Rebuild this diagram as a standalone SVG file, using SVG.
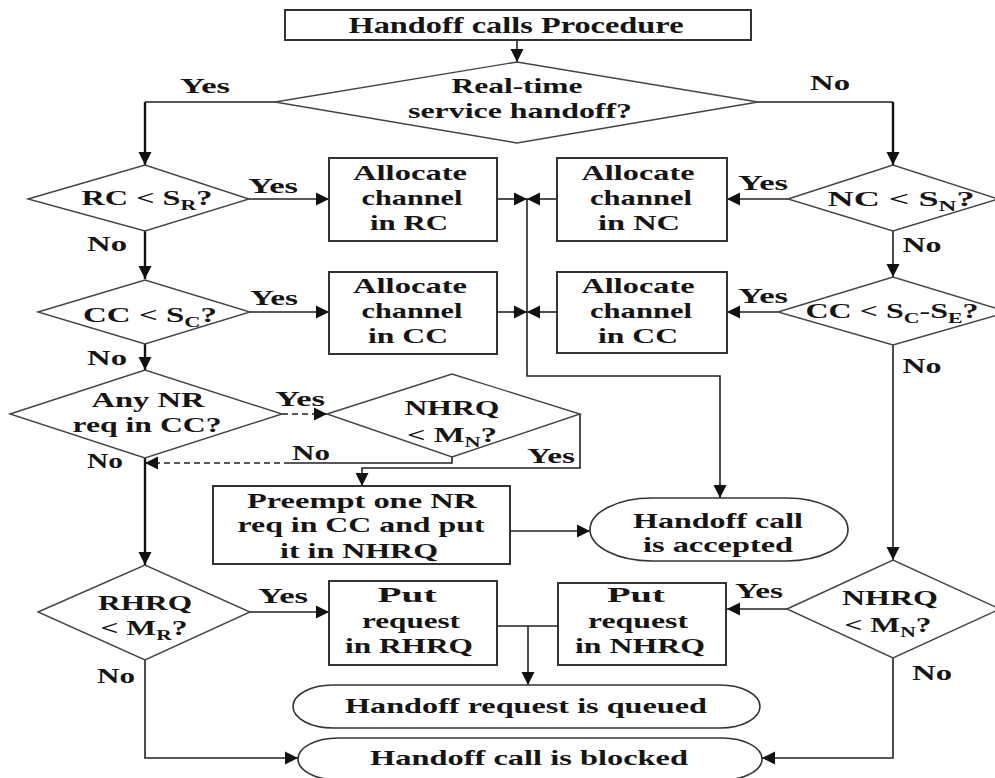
<svg xmlns="http://www.w3.org/2000/svg" width="995" height="778" viewBox="0 0 995 778">
<style>
text{font-family:"Liberation Serif","Times New Roman",serif;font-weight:bold;font-size:22px;fill:#151515;text-anchor:middle}
.t{font-size:23px}
.box{fill:#fff;stroke:#333;stroke-width:2}
.dia{fill:#fff;stroke:#444;stroke-width:1.4}
.term{fill:#fff;stroke:#333;stroke-width:1.6}
.ln{fill:none;stroke:#222;stroke-width:1.6}
.thk{fill:none;stroke:#111;stroke-width:2.4}
.dash{fill:none;stroke:#222;stroke-width:1.6;stroke-dasharray:6 4}
.sub{font-size:15px}
</style>
<defs>
<marker id="ah" markerUnits="userSpaceOnUse" markerWidth="14" markerHeight="14" refX="13" refY="7" orient="auto">
<path d="M0,0.5 L13,7 L0,13.5 z" fill="#111"/>
</marker>
</defs>

<g id="connectors">
<path class="ln" d="M517,40 V62" marker-end="url(#ah)"/>
<path class="ln" d="M275,102 H145"/>
<path class="thk" d="M145,102 V165" marker-end="url(#ah)"/>
<path class="ln" d="M758,102 H893"/>
<path class="thk" d="M893,102 V165" marker-end="url(#ah)"/>
<path class="ln" d="M249,199 H329" marker-end="url(#ah)"/>
<path class="ln" d="M788,199 H727" marker-end="url(#ah)"/>
<path class="thk" d="M145,231 V279" marker-end="url(#ah)"/>
<path class="ln" d="M893,231 V277" marker-end="url(#ah)"/>
<path class="ln" d="M250,312 H329" marker-end="url(#ah)"/>
<path class="ln" d="M778,312 H727" marker-end="url(#ah)"/>
<path class="ln" d="M497,199 H527" marker-end="url(#ah)"/>
<path class="ln" d="M557,199 H527" marker-end="url(#ah)"/>
<path class="ln" d="M497,312 H527" marker-end="url(#ah)"/>
<path class="ln" d="M557,312 H527" marker-end="url(#ah)"/>
<path class="ln" d="M527,199 V376 H720 V498" marker-end="url(#ah)"/>
<path class="thk" d="M145,344 V370" marker-end="url(#ah)"/>
<path class="ln" d="M893,345 V560" marker-end="url(#ah)"/>
<path class="dash" d="M282,414 H327" marker-end="url(#ah)"/>
<path class="ln" d="M452,457 V463 H290"/>
<path class="dash" d="M290,463 H145" marker-end="url(#ah)"/>
<path class="ln" d="M580,414 V468 H362 V486" marker-end="url(#ah)"/>
<path class="thk" d="M145,458 V565" marker-end="url(#ah)"/>
<path class="ln" d="M510,531 H590" marker-end="url(#ah)"/>
<path class="ln" d="M250,612 H329" marker-end="url(#ah)"/>
<path class="ln" d="M787,609 H727" marker-end="url(#ah)"/>
<path class="ln" d="M145,660 V758 H298" marker-end="url(#ah)"/>
<path class="ln" d="M893,658 V758 H762" marker-end="url(#ah)"/>
<path class="ln" d="M497,626 H558"/>
<path class="ln" d="M528,626 V685" marker-end="url(#ah)"/>
</g>

<g id="start">
<rect class="box" x="285" y="10" width="466" height="30"/>
<text class="t" x="516" y="33" textLength="335" lengthAdjust="spacingAndGlyphs">Handoff calls Procedure</text>
</g>

<g id="realtime">
<polygon class="dia" points="275,102 517,62 758,102 517,143"/>
<text x="517" y="93" textLength="131" lengthAdjust="spacingAndGlyphs">Real-time</text>
<text x="520" y="118" textLength="224" lengthAdjust="spacingAndGlyphs">service handoff?</text>
</g>

<g id="labels">
<text x="205" y="93" textLength="50" lengthAdjust="spacingAndGlyphs">Yes</text>
<text x="830" y="90" textLength="40" lengthAdjust="spacingAndGlyphs">No</text>
<text x="273" y="193" textLength="50" lengthAdjust="spacingAndGlyphs">Yes</text>
<text x="763" y="190" textLength="50" lengthAdjust="spacingAndGlyphs">Yes</text>
<text x="107" y="251" textLength="40" lengthAdjust="spacingAndGlyphs">No</text>
<text x="922" y="252" textLength="39" lengthAdjust="spacingAndGlyphs">No</text>
<text x="274" y="305" textLength="48" lengthAdjust="spacingAndGlyphs">Yes</text>
<text x="763" y="303" textLength="50" lengthAdjust="spacingAndGlyphs">Yes</text>
<text x="922" y="373" textLength="39" lengthAdjust="spacingAndGlyphs">No</text>
<text x="107" y="365" textLength="40" lengthAdjust="spacingAndGlyphs">No</text>
<text x="300" y="406" textLength="50" lengthAdjust="spacingAndGlyphs">Yes</text>
<text x="311" y="460" textLength="38" lengthAdjust="spacingAndGlyphs">No</text>
<text x="551" y="463" textLength="48" lengthAdjust="spacingAndGlyphs">Yes</text>
<text x="105" y="468" textLength="36" lengthAdjust="spacingAndGlyphs">No</text>
<text x="283" y="603" textLength="50" lengthAdjust="spacingAndGlyphs">Yes</text>
<text x="116" y="683" textLength="38" lengthAdjust="spacingAndGlyphs">No</text>
<text x="759" y="598" textLength="48" lengthAdjust="spacingAndGlyphs">Yes</text>
<text x="932" y="680" textLength="40" lengthAdjust="spacingAndGlyphs">No</text>
</g>

<g id="rc-check">
<polygon class="dia" points="28,199 145,165 249,199 145,231"/>
<text x="147" y="205" textLength="131" lengthAdjust="spacingAndGlyphs">RC &lt; S<tspan class="sub" dy="5">R</tspan><tspan dy="-5">?</tspan></text>
</g>

<g id="nc-check">
<polygon class="dia" points="788,199 893,165 998,199 893,231"/>
<text x="901" y="206" textLength="147" lengthAdjust="spacingAndGlyphs">NC &lt; S<tspan class="sub" dy="5">N</tspan><tspan dy="-5">?</tspan></text>
</g>

<g id="alloc-rc">
<rect class="box" x="329" y="158" width="168" height="83"/>
<text x="410" y="180" textLength="114" lengthAdjust="spacingAndGlyphs">Allocate</text>
<text x="412" y="205" textLength="101" lengthAdjust="spacingAndGlyphs">channel</text>
<text x="409" y="230" textLength="78" lengthAdjust="spacingAndGlyphs">in RC</text>
</g>

<g id="alloc-nc">
<rect class="box" x="557" y="158" width="170" height="83"/>
<text x="638" y="180" textLength="113" lengthAdjust="spacingAndGlyphs">Allocate</text>
<text x="641" y="205" textLength="102" lengthAdjust="spacingAndGlyphs">channel</text>
<text x="639" y="230" textLength="82" lengthAdjust="spacingAndGlyphs">in NC</text>
</g>

<g id="cc-check">
<polygon class="dia" points="38,312 145,280 250,312 145,344"/>
<text x="150" y="322" textLength="134" lengthAdjust="spacingAndGlyphs">CC &lt; S<tspan class="sub" dy="5">C</tspan><tspan dy="-5">?</tspan></text>
</g>

<g id="cc-check2">
<polygon class="dia" points="778,312 893,277 1008,312 893,345"/>
<text x="892" y="318" textLength="173" lengthAdjust="spacingAndGlyphs">CC &lt; S<tspan class="sub" dy="5">C</tspan><tspan dy="-5">-S</tspan><tspan class="sub" dy="5">E</tspan><tspan dy="-5">?</tspan></text>
</g>

<g id="alloc-cc1">
<rect class="box" x="329" y="272" width="168" height="82"/>
<text x="410" y="293" textLength="114" lengthAdjust="spacingAndGlyphs">Allocate</text>
<text x="412" y="318" textLength="101" lengthAdjust="spacingAndGlyphs">channel</text>
<text x="408" y="343" textLength="80" lengthAdjust="spacingAndGlyphs">in CC</text>
</g>

<g id="alloc-cc2">
<rect class="box" x="557" y="272" width="170" height="81"/>
<text x="638" y="293" textLength="113" lengthAdjust="spacingAndGlyphs">Allocate</text>
<text x="641" y="318" textLength="102" lengthAdjust="spacingAndGlyphs">channel</text>
<text x="638" y="343" textLength="80" lengthAdjust="spacingAndGlyphs">in CC</text>
</g>

<g id="any-nr">
<polygon class="dia" points="10,414 145,370 282,414 145,458"/>
<text x="148" y="407" textLength="113" lengthAdjust="spacingAndGlyphs">Any NR</text>
<text x="147" y="432" textLength="149" lengthAdjust="spacingAndGlyphs">req in CC?</text>
</g>

<g id="nhrq-check1">
<polygon class="dia" points="327,414 452,374 580,414 452,457"/>
<text x="452" y="415" textLength="95" lengthAdjust="spacingAndGlyphs">NHRQ</text>
<text x="452" y="442" textLength="90" lengthAdjust="spacingAndGlyphs">&lt; M<tspan class="sub" dy="5">N</tspan><tspan dy="-5">?</tspan></text>
</g>

<g id="preempt">
<rect class="box" x="213" y="486" width="297" height="78"/>
<text x="362" y="508" textLength="230" lengthAdjust="spacingAndGlyphs">Preempt one NR</text>
<text x="361" y="532" textLength="247" lengthAdjust="spacingAndGlyphs">req in CC and put</text>
<text x="359" y="558" textLength="158" lengthAdjust="spacingAndGlyphs">it in NHRQ</text>
</g>

<g id="accepted">
<rect class="term" x="590" y="498" width="258" height="63" rx="62" ry="31.5"/>
<text x="718" y="528" textLength="170" lengthAdjust="spacingAndGlyphs">Handoff call</text>
<text x="718" y="552" textLength="150" lengthAdjust="spacingAndGlyphs">is accepted</text>
</g>

<g id="rhrq-check">
<polygon class="dia" points="38,612 145,565 250,612 145,660"/>
<text x="145" y="610" textLength="94" lengthAdjust="spacingAndGlyphs">RHRQ</text>
<text x="144" y="635" textLength="87" lengthAdjust="spacingAndGlyphs">&lt; M<tspan class="sub" dy="5">R</tspan><tspan dy="-5">?</tspan></text>
</g>

<g id="put-rhrq">
<rect class="box" x="329" y="581" width="168" height="84"/>
<text x="407" y="602" textLength="59" lengthAdjust="spacingAndGlyphs">Put</text>
<text x="411" y="628" textLength="98" lengthAdjust="spacingAndGlyphs">request</text>
<text x="409" y="653" textLength="128" lengthAdjust="spacingAndGlyphs">in RHRQ</text>
</g>

<g id="put-nhrq">
<rect class="box" x="558" y="583" width="168" height="82"/>
<text x="636" y="602" textLength="58" lengthAdjust="spacingAndGlyphs">Put</text>
<text x="638" y="628" textLength="100" lengthAdjust="spacingAndGlyphs">request</text>
<text x="640" y="653" textLength="130" lengthAdjust="spacingAndGlyphs">in NHRQ</text>
</g>

<g id="nhrq-check2">
<polygon class="dia" points="787,609 893,560 1000,609 893,658"/>
<text x="890" y="605" textLength="96" lengthAdjust="spacingAndGlyphs">NHRQ</text>
<text x="888" y="632" textLength="87" lengthAdjust="spacingAndGlyphs">&lt; M<tspan class="sub" dy="5">N</tspan><tspan dy="-5">?</tspan></text>
</g>

<g id="queued">
<rect class="term" x="293" y="685" width="467" height="43" rx="40" ry="21.5"/>
<text x="526" y="713" textLength="362" lengthAdjust="spacingAndGlyphs">Handoff request is queued</text>
</g>

<g id="blocked">
<rect class="term" x="298" y="738" width="464" height="42" rx="40" ry="21"/>
<text x="529" y="765" textLength="318" lengthAdjust="spacingAndGlyphs">Handoff call is blocked</text>
</g>
</svg>
